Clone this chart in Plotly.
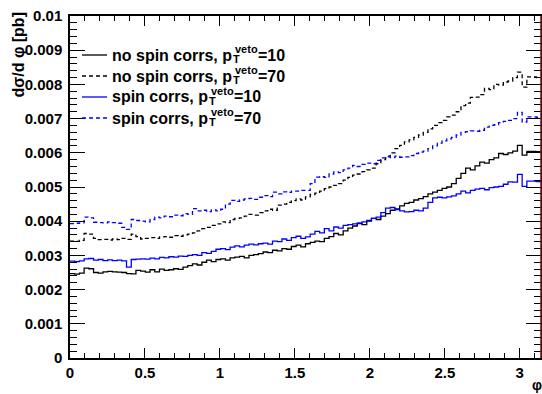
import numpy as np
import plotly.graph_objects as go

# 100 bins over [0, pi]
n_bins = 100
phi_min, phi_max = 0.0, np.pi

# d sigma / d phi in units of 1e-3 pb
no_spin_10 = [
    2.47, 2.45, 2.48, 2.63, 2.61, 2.50, 2.48, 2.52, 2.53, 2.52,
    2.51, 2.50, 2.47, 2.46, 2.56, 2.54, 2.51, 2.58, 2.52, 2.60,
    2.56, 2.58, 2.61, 2.59, 2.66, 2.70, 2.75, 2.72, 2.80, 2.86,
    2.82, 2.88, 2.90, 2.86, 2.93, 2.95, 2.97, 2.93, 3.00, 3.02,
    3.05, 3.10, 3.08, 3.15, 3.13, 3.20, 3.18, 3.26, 3.30, 3.25,
    3.34, 3.38, 3.42, 3.40, 3.50, 3.55, 3.64, 3.60, 3.72, 3.80,
    3.86, 3.93, 3.90, 4.00, 4.08, 4.05, 4.15, 4.22, 4.32, 4.36,
    4.45, 4.52, 4.55, 4.62, 4.66, 4.72, 4.80, 4.85, 4.90, 4.96,
    5.00, 5.10, 5.25, 5.40, 5.55, 5.50, 5.62, 5.73, 5.70, 5.80,
    5.85, 5.98, 5.95, 6.00, 6.05, 6.22, 5.93, 6.04, 6.04, 6.03]

no_spin_70 = [
    3.42, 3.41, 3.44, 3.64, 3.62, 3.50, 3.46, 3.47, 3.45, 3.48,
    3.46, 3.50, 3.47, 3.62, 3.55, 3.48, 3.50, 3.52, 3.50, 3.54,
    3.55, 3.53, 3.58, 3.56, 3.60, 3.62, 3.66, 3.72, 3.78, 3.82,
    3.88, 3.92, 3.98, 3.96, 4.05, 4.08, 4.10, 4.15, 4.20, 4.18,
    4.25, 4.30, 4.35, 4.32, 4.47, 4.50, 4.55, 4.60, 4.65, 4.62,
    4.71, 4.78, 4.82, 4.88, 4.95, 5.00, 5.05, 5.10, 5.20, 5.28,
    5.35, 5.38, 5.45, 5.50, 5.55, 5.68, 5.80, 5.90, 6.00, 6.12,
    6.22, 6.32, 6.38, 6.45, 6.52, 6.60, 6.70, 6.80, 6.88, 6.95,
    7.05, 7.10, 7.20, 7.38, 7.45, 7.62, 7.63, 7.70, 7.88, 7.85,
    8.00, 7.98, 8.07, 8.10, 8.20, 8.36, 7.92, 8.22, 8.22, 8.20]

spin_10 = [
    2.83, 2.82, 2.84, 2.90, 2.91, 2.86, 2.88, 2.85, 2.87, 2.85,
    2.86, 2.84, 2.66, 2.88, 2.89, 2.90, 2.89, 2.92, 2.90, 2.94,
    2.93, 2.96, 2.95, 2.98, 2.97, 3.00, 3.02, 3.00, 3.08, 3.06,
    3.12, 3.18, 3.20, 3.17, 3.24, 3.28, 3.25, 3.30, 3.33, 3.31,
    3.34, 3.36, 3.33, 3.42, 3.40, 3.48, 3.44, 3.52, 3.56, 3.50,
    3.54, 3.62, 3.70, 3.66, 3.78, 3.72, 3.83, 3.80, 3.88, 3.90,
    3.92, 3.95, 3.98, 4.02, 4.08, 4.12, 4.25, 4.38, 4.40, 4.34,
    4.30, 4.27, 4.28, 4.32, 4.30, 4.38, 4.55, 4.68, 4.70, 4.68,
    4.71, 4.74, 4.80, 4.88, 4.83, 4.90, 4.94, 4.96, 4.92, 4.98,
    5.00, 5.02, 5.08, 5.15, 5.14, 5.37, 5.02, 5.17, 5.17, 5.16]

spin_70 = [
    3.93, 3.94, 3.95, 4.12, 4.10, 3.97, 3.96, 3.95, 3.98, 3.96,
    3.94, 3.82, 3.76, 4.05, 4.02, 4.00, 3.98, 4.05, 4.12, 4.10,
    4.15, 4.13, 4.18, 4.16, 4.22, 4.20, 4.37, 4.30, 4.32, 4.28,
    4.33, 4.30, 4.35, 4.50, 4.61, 4.58, 4.62, 4.65, 4.67, 4.64,
    4.70, 4.75, 4.72, 4.85, 4.80, 4.86, 4.84, 4.88, 4.88, 4.90,
    4.90, 5.10, 5.29, 5.30, 5.28, 5.38, 5.44, 5.42, 5.50, 5.55,
    5.63, 5.60, 5.66, 5.70, 5.68, 5.78, 5.85, 5.88, 5.86, 5.90,
    5.87, 5.88, 5.92, 5.98, 6.02, 6.05, 6.12, 6.20, 6.28, 6.35,
    6.41, 6.45, 6.52, 6.60, 6.62, 6.64, 6.63, 6.66, 6.75, 6.80,
    6.82, 6.88, 6.92, 6.95, 7.00, 7.18, 6.90, 7.05, 7.05, 7.04]

series_names = ["no spin corrs", "no spin corrs", "spin corrs", "spin corrs"]
veto_values = ["10", "70", "10", "70"]
series_colors = ["#000000", "#000000", "#0000ff", "#0000ff"]
series_dash = ["solid", "4px,3px", "solid", "4px,3px"]
series_data = [no_spin_10, no_spin_70, spin_10, spin_70]

edges = np.linspace(phi_min, phi_max, n_bins + 1)

# frame in page pixels (body margin is removed below)
W, H = 542, 394
PL, PR, PT, PB = 70, 541, 16, 358
L, T = PL, PT
R, B = W - PR, H - PB
PW, PH = PR - PL, PB - PT

def px(x):
    return (x - PL) / PW

def py(y):
    return (PB - y) / PH

fig = go.Figure()
for data, col, dash in zip(series_data, series_colors, series_dash):
    yv = np.array(data) * 1e-3
    fig.add_trace(go.Scatter(
        x=edges, y=np.append(yv, yv[-1]), mode="lines",
        line=dict(shape="hv", color=col, width=1.3, dash=dash),
        showlegend=False, hoverinfo="skip"))

font_family = "Liberation Sans, Arial, sans-serif"
tickfont = dict(family=font_family, size=15, color="black", weight="bold")

fig.update_layout(
    width=W, height=H,
    margin=dict(l=L, r=R, t=T, b=B, autoexpand=False),
    paper_bgcolor="white", plot_bgcolor="white",
    xaxis=dict(range=[phi_min, phi_max], dtick=0.5, tick0=0, automargin=False,
               ticks="inside", ticklen=10, tickwidth=1, tickcolor="black",
               minor=dict(dtick=0.1, ticks="inside", ticklen=5, tickcolor="black"),
               showline=True, linecolor="black", linewidth=1.5, mirror="ticks",
               showgrid=False, zeroline=False, tickfont=tickfont,
               ticklabelstandoff=0, ticklabeloverflow="allow"),
    yaxis=dict(range=[0, 0.01], dtick=0.001, tick0=0, automargin=False,
               ticks="inside", ticklen=15, tickwidth=1, tickcolor="black",
               minor=dict(dtick=0.0002, ticks="inside", ticklen=7, tickcolor="black"),
               showline=True, linecolor="black", linewidth=1.5, mirror="ticks",
               showgrid=False, zeroline=False, tickfont=tickfont,
               ticklabelstandoff=3, ticklabeloverflow="allow"),
)

# dark red right frame edge, as in the original canvas
fig.add_shape(type="line", xref="paper", yref="paper", x0=1, x1=1, y0=0, y1=1,
              line=dict(color="#6b1010", width=1.5))

# axis titles
fig.add_annotation(text="dσ/d φ [pb]", textangle=-90, xref="paper", yref="paper",
                   x=px(18), y=py(11), xanchor="center", yanchor="top", showarrow=False,
                   font=dict(family=font_family, size=16, color="black", weight="bold"))
fig.add_annotation(text="φ", xref="paper", yref="paper",
                   x=px(537), y=py(385), xanchor="center", yanchor="middle", showarrow=False,
                   font=dict(family=font_family, size=14, color="black", weight="bold"))

# legend drawn by hand
rows_y = [55, 76, 97, 118]
LS, SS = 16, 11
lfont = dict(family=font_family, size=LS, color="black", weight="bold")
sfont = dict(family=font_family, size=SS, color="black", weight="bold")
wmap = {"n": 0.611, "o": 0.611, " ": 0.278, "s": 0.556, "p": 0.611, "i": 0.278,
        "c": 0.556, "r": 0.389, ",": 0.278}
for name, veto, col, dash, ry in zip(series_names, veto_values, series_colors, series_dash, rows_y):
    fig.add_shape(type="line", xref="paper", yref="paper",
                  x0=px(82), x1=px(107), y0=py(ry), y1=py(ry),
                  line=dict(color=col, width=1.3, dash=dash))
    main = name + ", p"
    fig.add_annotation(text=main, xref="paper", yref="paper", x=px(110), y=py(ry),
                       xanchor="left", yanchor="middle", showarrow=False, font=lfont)
    wtxt = sum(wmap.get(ch, 0.556) for ch in main) * LS
    xs = 110 + wtxt + 1
    fig.add_annotation(text="T", xref="paper", yref="paper", x=px(xs), y=py(ry + 4),
                       xanchor="left", yanchor="middle", showarrow=False, font=sfont)
    fig.add_annotation(text="veto", xref="paper", yref="paper", x=px(xs + 2), y=py(ry - 6),
                       xanchor="left", yanchor="middle", showarrow=False, font=sfont)
    fig.add_annotation(text="=" + veto, xref="paper", yref="paper", x=px(xs + 25), y=py(ry),
                       xanchor="left", yanchor="middle", showarrow=False, font=lfont)

# remove the default 8px page margin so the figure sits at the window origin
fig.write_html("out.html",
               config={"displayModeBar": False},
               post_script="document.body.style.margin='0';document.body.style.overflow='hidden';")
